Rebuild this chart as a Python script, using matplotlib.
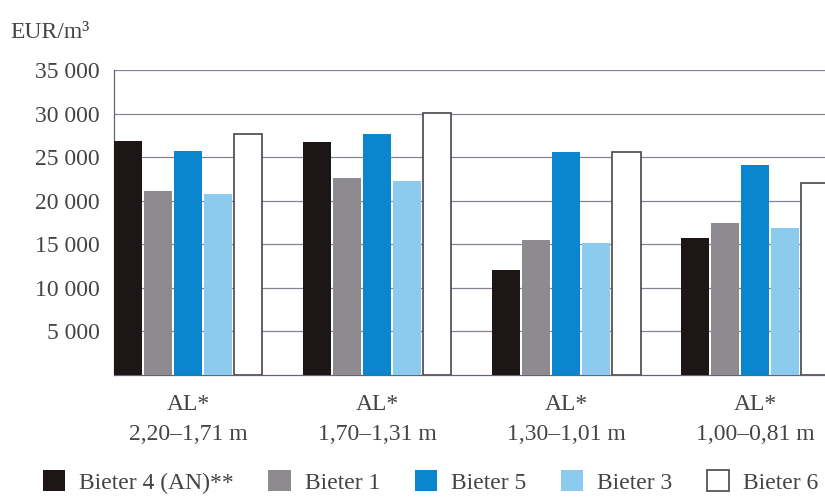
import matplotlib.pyplot as plt
import numpy as np

# data (EUR/m3)
groups = ["AL*\n2,20\u20131,71 m", "AL*\n1,70\u20131,31 m",
          "AL*\n1,30\u20131,01 m", "AL*\n1,00\u20130,81 m"]
bidders = ["Bieter 4 (AN)**", "Bieter 1", "Bieter 5", "Bieter 3", "Bieter 6"]
bieter4 = [26900, 26750, 12050, 15700]
bieter1 = [21100, 22600, 15500, 17400]
bieter5 = [25700, 27600, 25550, 24150]
bieter3 = [20750, 22300, 15100, 16900]
bieter6 = [27700, 30100, 25600, 22000]
yticks = [5000, 10000, 15000, 20000, 25000, 30000, 35000]

colors = ["#1c1616", "#8e8b90", "#0a86cf", "#8dcbee", "#ffffff"]
series = [bieter4, bieter1, bieter5, bieter3, bieter6]
txt_col = "#444444"

plt.rcParams['font.family'] = ['Liberation Serif', 'DejaVu Serif']

fig = plt.figure(figsize=(8.25, 5), dpi=100)
ax = fig.add_axes([0.138, 0.25, 0.862, 0.61])

x = np.arange(len(groups))
step = 0.159
width = 0.15
for i, (vals, col) in enumerate(zip(series, colors)):
    edge = "#4a444a" if col == "#ffffff" else "none"
    ax.bar(x + (i - 2) * step, vals, width, color=col, edgecolor=edge,
           linewidth=1.2, label=bidders[i], zorder=3)

ax.set_xlim(-2 * step - width / 2, 3.369)
ax.set_ylim(0, 35000)
ax.set_yticks(yticks)
ax.set_yticklabels([f"{v:,}".replace(",", " ") for v in yticks])
ax.set_xticks(x)
ax.set_xticklabels(groups, linespacing=1.55)
ax.tick_params(axis='both', length=0, labelsize=17, colors=txt_col)
ax.tick_params(axis='y', pad=10)
ax.tick_params(axis='x', pad=14)
ax.grid(axis='y', color="#8a8090", linewidth=0.9, zorder=0)
for s in ["top", "right"]:
    ax.spines[s].set_visible(False)
ax.spines["left"].set_color("#6a6070")
ax.spines["bottom"].set_color("#6a6070")
ax.spines["left"].set_linewidth(0.9)
ax.spines["bottom"].set_linewidth(0.9)

fig.text(0.013, 0.925, "EUR/m\u00b3", fontsize=17, color=txt_col)

leg = fig.legend(loc="lower center", bbox_to_anchor=(0.522, -0.03), ncol=5,
                 frameon=False, fontsize=17, handlelength=0.95, handleheight=0.95,
                 columnspacing=1.45, handletextpad=0.6)
for t in leg.get_texts():
    t.set_color(txt_col)

fig.savefig("out.png", dpi=100)
